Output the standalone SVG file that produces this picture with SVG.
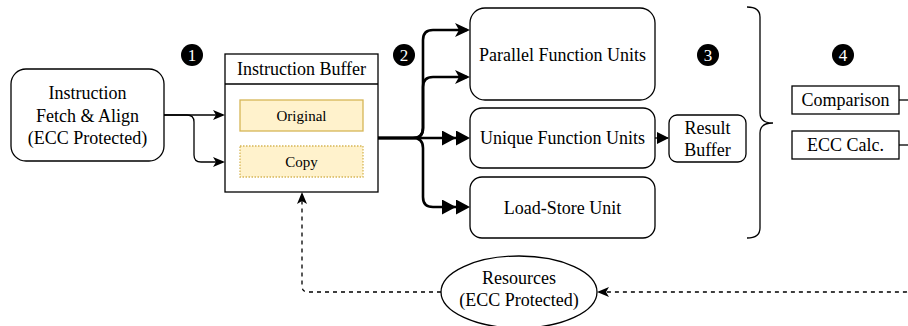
<svg xmlns="http://www.w3.org/2000/svg" width="908" height="326" viewBox="0 0 908 326">
<style>
text{font-family:"Liberation Serif","Times New Roman",serif;font-size:18px;fill:#000;text-anchor:middle}
.box{fill:#fff;stroke:#000;stroke-width:1.3}
.thin{fill:none;stroke:#000;stroke-width:1.3}
.thick{fill:none;stroke:#000;stroke-width:2.6}
.dash{fill:none;stroke:#000;stroke-width:1.3;stroke-dasharray:4 4}
.num{fill:#fff;font-size:17px}
.sm{font-size:15px}
</style>
<defs>
<marker id="aThin" viewBox="0 0 12 10" markerWidth="12" markerHeight="10" refX="10" refY="5" orient="auto" markerUnits="userSpaceOnUse"><path d="M0,0 L12,5 L0,10 L3,5 z" fill="#000"/></marker>
<marker id="aThick" viewBox="0 0 15 14" markerWidth="15" markerHeight="14" refX="12" refY="7" orient="auto" markerUnits="userSpaceOnUse"><path d="M0,0 L15,7 L0,14 L4,7 z" fill="#000"/></marker>
<marker id="aDouble" viewBox="0 0 28 15" markerWidth="28" markerHeight="15" refX="25" refY="7.5" orient="auto" markerUnits="userSpaceOnUse"><path d="M0,0 L14,7.5 L0,15 z M14,0 L28,7.5 L14,15 z" fill="#000"/></marker>
<marker id="aBlock" viewBox="0 0 12 12" markerWidth="12" markerHeight="12" refX="11" refY="6" orient="auto" markerUnits="userSpaceOnUse"><path d="M0,0 L12,6 L0,12 z" fill="#000"/></marker>
</defs>

<g id="markers">
<circle cx="192" cy="55" r="11" fill="#000"/><text class="num" x="192" y="61">1</text>
<circle cx="404" cy="55" r="11" fill="#000"/><text class="num" x="404" y="61">2</text>
<circle cx="708" cy="55" r="11" fill="#000"/><text class="num" x="708" y="61">3</text>
<circle cx="843" cy="55" r="11" fill="#000"/><text class="num" x="843" y="61">4</text>
</g>

<g id="connectors">
<path class="thin" d="M164,115 L223,115" marker-end="url(#aThin)"/>
<path class="thin" d="M164,115 L187,115 Q194,115 194,122 L194,155 Q194,162 201,162 L223,162" marker-end="url(#aThin)"/>
<path class="thick" d="M378,138 L413,138 Q423,138 423,128 L423,40 Q423,30 433,30 L467,30" marker-end="url(#aThick)"/>
<path class="thick" d="M378,138 L413,138 Q423,138 423,128 L423,87 Q423,77 433,77 L467,77" marker-end="url(#aThick)"/>
<path class="thick" d="M378,138 L467,138" marker-end="url(#aDouble)"/>
<path class="thick" d="M378,138 L413,138 Q423,138 423,148 L423,197 Q423,207 433,207 L467,207" marker-end="url(#aDouble)"/>
<path class="thin" d="M655,138 L668,138" marker-end="url(#aBlock)"/>
<path class="thin" d="M747,7 Q760,7 760,17 L760,113 Q760,123 773,123 Q760,123 760,133 L760,228 Q760,238 747,238"/>
<path class="thin" d="M899,100 L908,100"/>
<path class="thin" d="M899,145 L908,145"/>
<path class="dash" d="M911,278 L911,287 Q911,292 906,292 L599,292" marker-end="url(#aThin)"/>
<path class="dash" d="M441,292 L308,292 Q302,292 302,286 L302,194" marker-end="url(#aThin)"/>
</g>

<g id="fetch">
<rect class="box" x="11" y="69" width="153" height="92" rx="15"/>
<text x="87.5" y="99">Instruction</text>
<text x="87.5" y="121.5">Fetch &amp; Align</text>
<text x="87.5" y="144">(ECC Protected)</text>
</g>

<g id="ibuffer">
<rect class="box" x="225" y="54" width="153" height="138"/>
<path class="thin" d="M225,84 L378,84"/>
<text x="301.5" y="75">Instruction Buffer</text>
</g>
<g id="original">
<rect x="240" y="100" width="123" height="31" fill="#fff2cc" stroke="#d6b656" stroke-width="1.3"/>
<text class="sm" x="301.5" y="120.5">Original</text>
</g>
<g id="copy">
<rect x="240" y="146" width="123" height="31" fill="#fff2cc" stroke="#d6b656" stroke-width="1.3" stroke-dasharray="1.5 1.5"/>
<text class="sm" x="301.5" y="166.5">Copy</text>
</g>

<g id="parallel">
<rect class="box" x="470" y="8" width="185" height="92" rx="15"/>
<text x="562.5" y="61">Parallel Function Units</text>
</g>
<g id="unique">
<rect class="box" x="470" y="108" width="185" height="60" rx="12"/>
<text x="562.5" y="144">Unique Function Units</text>
</g>
<g id="loadstore">
<rect class="box" x="470" y="177" width="185" height="61" rx="12"/>
<text x="562.5" y="214">Load-Store Unit</text>
</g>

<g id="result">
<rect class="box" x="669" y="115" width="77" height="47" rx="8"/>
<text x="707.5" y="134">Result</text>
<text x="707.5" y="156">Buffer</text>
</g>

<g id="comparison">
<rect class="box" x="792" y="86" width="107" height="28"/>
<text x="845.5" y="106">Comparison</text>
</g>
<g id="ecc">
<rect class="box" x="792" y="131" width="107" height="28"/>
<text x="845.5" y="151">ECC Calc.</text>
</g>

<g id="resources">
<ellipse class="box" cx="519" cy="292" rx="78" ry="36"/>
<text x="519" y="284">Resources</text>
<text x="519" y="306">(ECC Protected)</text>
</g>
</svg>
